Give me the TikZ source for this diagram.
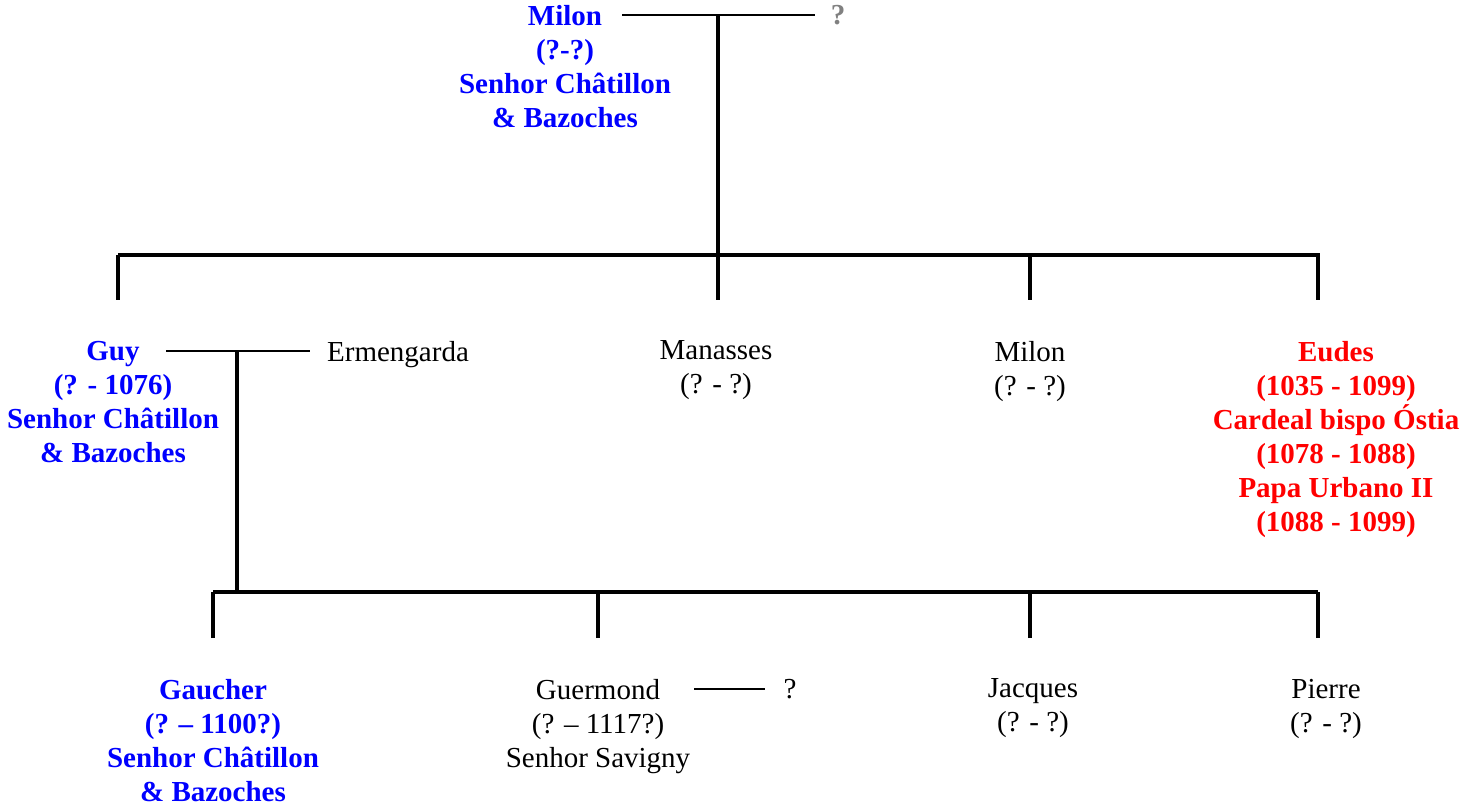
\documentclass[tikz,border=0pt]{standalone}
\usepackage{fontspec}
\setmainfont{Liberation Serif}
\definecolor{lordblue}{RGB}{0,0,255}
\definecolor{popered}{RGB}{255,0,0}
\definecolor{unkgray}{RGB}{128,128,128}

\begin{document}
\begin{tikzpicture}[x=0.5pt,y=-0.5pt,
    person/.style={anchor=north,inner sep=0pt,align=center,
      font=\fontsize{14.5}{17}\selectfont},
    lord/.style={person,text=lordblue,font=\fontsize{14.5}{17}\selectfont\bfseries},
    pope/.style={person,text=popered,font=\fontsize{14.5}{17}\selectfont\bfseries},
    tree/.style={line width=1.8pt},
    wed/.style={line width=0.9pt}]
  \useasboundingbox (0,0) rectangle (1461,806);

  % generation 1
  \node[lord] (milon) at (565,4.5) {Milon\\(?-?)\\Senhor Châtillon\\\& Bazoches};
  \node[person,text=unkgray,font=\fontsize{14.5}{17}\selectfont\bfseries] (milonwife) at (838,4.5) {?};
  \coordinate (milonw) at (622,15);
  \coordinate (milonq) at (815,15);
  \coordinate (top) at (718,15);
  \draw[wed] (milonw) -- (milonq);

  % generation 2
  \coordinate (bar1l) at (118,255);
  \coordinate (bar1r) at (1320,255);
  \draw[tree] (top) -- (top |- bar1l);
  \draw[tree] (bar1l) -- (bar1r);
  \coordinate (dguy) at (118,300);
  \coordinate (dmanasses) at (718,300);
  \coordinate (dmilon) at (1030,300);
  \coordinate (deudes) at (1318,300);
  \foreach \d in {dguy,dmanasses,dmilon,deudes}
    \draw[tree] (\d) -- (\d |- bar1l);

  \node[lord] (guy) at (113,340.5) {Guy\\(? - 1076)\\Senhor Châtillon\\\& Bazoches};
  \node[person] (ermengarda) at (398,340.5) {Ermengarda};
  \node[person] (manasses) at (716,340.5) {Manasses\\(? - ?)};
  \node[person] (milon2) at (1030,340.5) {Milon\\(? - ?)};
  \node[pope] (eudes) at (1336,340.5) {Eudes\\(1035 - 1099)\\Cardeal bispo Óstia\\(1078 - 1088)\\Papa Urbano II\\(1088 - 1099)};
  \coordinate (guyw) at (166,351);
  \coordinate (guye) at (310,351);
  \coordinate (mid) at (237,351);
  \draw[wed] (guyw) -- (guye);

  % generation 3
  \coordinate (bar2l) at (213,592);
  \coordinate (bar2r) at (1318,592);
  \draw[tree] (mid) -- (mid |- bar2l);
  \draw[tree] (bar2l) -- (bar2r);
  \coordinate (dgaucher) at (213,638);
  \coordinate (dguermond) at (598,638);
  \coordinate (djacques) at (1030,638);
  \coordinate (dpierre) at (1318,638);
  \foreach \d in {dgaucher,dguermond,djacques,dpierre}
    \draw[tree] (\d) -- (\d |- bar2l);

  \node[lord] (gaucher) at (213,678.5) {Gaucher\\(? – 1100?)\\Senhor Châtillon\\\& Bazoches};
  \node[person] (guermond) at (598,678.5) {Guermond\\(? – 1117?)\\Senhor Savigny};
  \node[person] (guermondwife) at (790,678.5) {?};
  \node[person] (jacques) at (1033,678.5) {Jacques\\(? - ?)};
  \node[person] (pierre) at (1326,678.5) {Pierre\\(? - ?)};
  \coordinate (guermondw) at (694,689);
  \coordinate (guermondq) at (765,689);
  \draw[wed] (guermondw) -- (guermondq);
\end{tikzpicture}
\end{document}
